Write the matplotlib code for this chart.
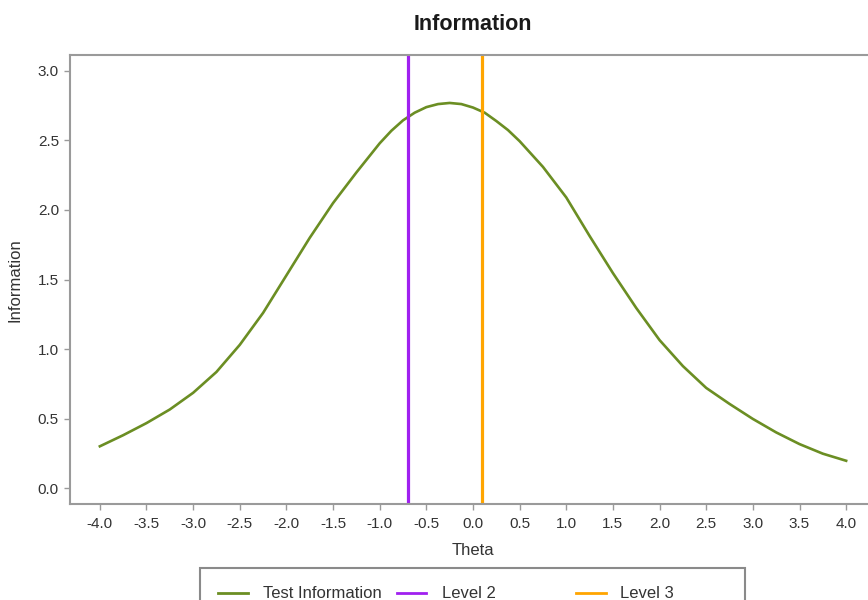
import matplotlib
matplotlib.use("Agg")
import matplotlib.pyplot as plt
from matplotlib.lines import Line2D
from matplotlib.patches import Rectangle

plt.rcParams["font.family"] = ["Liberation Sans", "DejaVu Sans"]

# test information curve
theta = [-4.0, -3.75, -3.5, -3.25, -3.0, -2.75, -2.5, -2.25, -2.0, -1.75,
         -1.5, -1.25, -1.0, -0.875, -0.75, -0.625, -0.5, -0.375, -0.25, -0.125,
         0.0, 0.125, 0.25, 0.375, 0.5, 0.75, 1.0, 1.25, 1.5, 1.75,
         2.0, 2.25, 2.5, 2.75, 3.0, 3.25, 3.5, 3.75, 4.0]
info = [0.30, 0.38, 0.467, 0.565, 0.685, 0.835, 1.03, 1.26, 1.53, 1.80,
        2.05, 2.27, 2.48, 2.57, 2.645, 2.70, 2.74, 2.762, 2.77, 2.762,
        2.737, 2.70, 2.64, 2.575, 2.495, 2.31, 2.09, 1.813, 1.546, 1.295,
        1.064, 0.877, 0.72, 0.605, 0.497, 0.40, 0.316, 0.247, 0.196]

level_names = ["Level 2", "Level 3"]
level_cuts = [-0.70, 0.10]

xticks = [-4.0, -3.5, -3.0, -2.5, -2.0, -1.5, -1.0, -0.5, 0.0, 0.5,
          1.0, 1.5, 2.0, 2.5, 3.0, 3.5, 4.0]
yticks = [0.0, 0.5, 1.0, 1.5, 2.0, 2.5, 3.0]

curve_color = "#6B8E23"
level_colors = ["#A020F0", "#FFA500"]
frame_color = "#9a9a9a"
text_color = "#333333"

W, H = 868, 600
fig = plt.figure(figsize=(W / 100, H / 100), dpi=100)
ax = fig.add_axes([70 / W, 1 - 504 / H, (876 - 70) / W, (504 - 55) / H])

ax.plot(theta, info, color=curve_color, lw=1.9, solid_joinstyle="round")
for cut, col in zip(level_cuts, level_colors):
    ax.axvline(cut, color=col, lw=2.3)

ax.set_xlim(-4.32, 4.32)
ax.set_ylim(-0.115, 3.115)
ax.set_xticks(xticks)
ax.set_xticklabels([f"{t:.1f}" for t in xticks])
ax.set_yticks(yticks)
ax.set_yticklabels([f"{t:.1f}" for t in yticks])
ax.tick_params(axis="both", colors=frame_color, labelcolor=text_color,
               labelsize=11, length=4, width=1)
ax.tick_params(axis="x", pad=5)
ax.tick_params(axis="y", pad=4)
for sp in ax.spines.values():
    sp.set_color(frame_color)
    sp.set_linewidth(1.5)

ax.set_title("Information", fontsize=15.5, fontweight="bold", color="#1a1a1a", pad=18)
ax.set_xlabel("Theta", fontsize=12, color=text_color, labelpad=9)
fig.text(15 / W, 1 - 280 / H, "Information", rotation=90, fontsize=12,
         color=text_color, ha="center", va="center")

# legend box below the plot, cut off at the bottom like the reference
fig.patches.append(Rectangle((200 / W, -20 / H), (745 - 200) / W, (600 - 568 + 20) / H,
                             transform=fig.transFigure, fill=False,
                             edgecolor="#8a8a8a", lw=1.5))
leg_names = ["Test Information"] + level_names
leg_colors = [curve_color] + level_colors
line_x = [(218, 248), (397, 426), (576, 606)]
text_x = [263, 442, 620]
for name, col, (x0, x1), tx in zip(leg_names, leg_colors, line_x, text_x):
    fig.lines.append(Line2D([x0 / W, x1 / W], [1 - 593 / H] * 2,
                            transform=fig.transFigure, color=col, lw=2))
    fig.text(tx / W, 1 - 593 / H, name, fontsize=12, color=text_color,
             ha="left", va="center")

fig.savefig("out.png", dpi=100)
